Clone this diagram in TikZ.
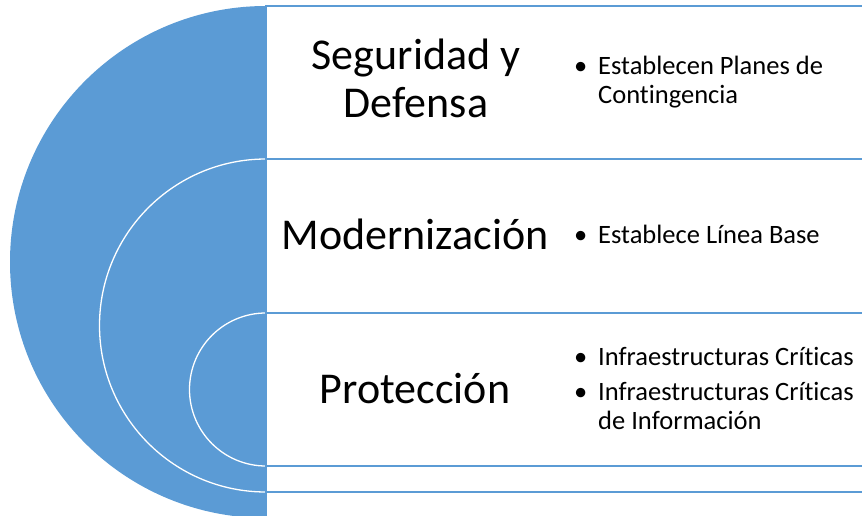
\documentclass[tikz,border=0pt]{standalone}
\usepackage{fontspec}
\setmainfont[Ligatures=NoCommon]{Carlito}
\definecolor{accent}{HTML}{5B9BD5}
\tikzset{
  band/.style={fill=white,draw=accent,line width=1.3pt},
  title/.style={inner sep=0pt,anchor=base,align=center,font=\fontsize{44}{48}\selectfont},
  items/.style={inner sep=0pt,anchor=base west,font=\fontsize{26.5}{29}\selectfont},
}
\newcommand{\itm}{\makebox[24pt][l]{\textbullet}}
\begin{document}
\begin{tikzpicture}[x=1pt,y=-1pt]
\useasboundingbox (0,0) rectangle (862,516);
% outer half disc and first band
\fill[accent] (266,6) arc[start angle=270,end angle=90,radius=256] -- cycle;
\draw[band] (266,6) rectangle (880,518);
% middle half disc and second band
\fill[accent] (266,159) arc[start angle=270,end angle=90,radius=166.5] -- cycle;
\draw[white,line width=1.3pt] (266,159) arc[start angle=270,end angle=90,radius=166.5];
\draw[band] (266,159) rectangle (880,492);
% inner half disc and third band
\fill[accent] (266,313) arc[start angle=270,end angle=90,radius=76.5] -- cycle;
\draw[white,line width=1.3pt] (266,313) arc[start angle=270,end angle=90,radius=76.5];
\draw[band] (266,313) rectangle (880,466);
% titles
\node[title] (t1) at (416,118) {Seguridad y\\Defensa};
\node[title] (t2) at (415,249) {Modernización};
\node[title] (t3) at (415,403) {Protección};
% bullet lists
\node[items] (b1) at (574,75) {\begin{tabular}[t]{@{}l@{}}\itm Establecen Planes de\\\hspace{24pt}Contingencia\end{tabular}};
\node[items] (b2) at (574,243) {\itm Establece Línea Base};
\node[items] (b3) at (574,365) {\begin{tabular}[t]{@{}l@{}}\itm Infraestructuras Críticas\\[6pt]\itm Infraestructuras Críticas\\\hspace{24pt}de Información\end{tabular}};
\end{tikzpicture}
\end{document}
